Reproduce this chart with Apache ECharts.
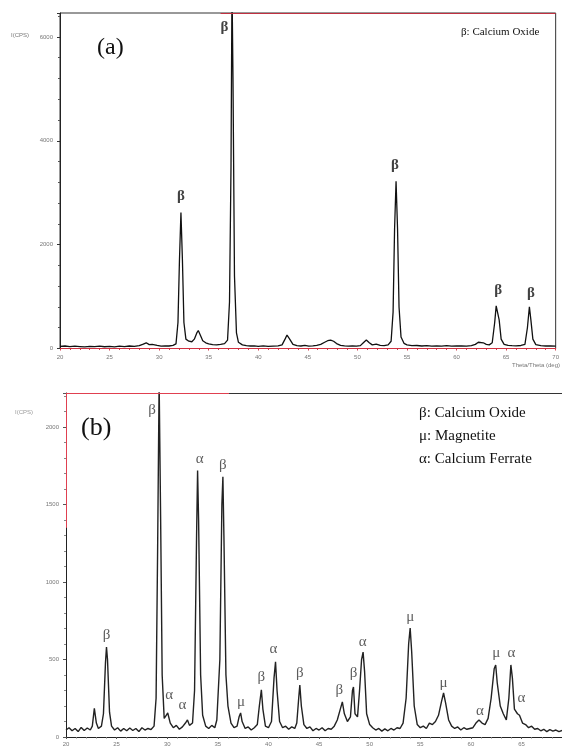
<!DOCTYPE html>
<html>
<head>
<meta charset="utf-8">
<script src="https://cdn.jsdelivr.net/npm/echarts@6/dist/echarts.min.js"></script>
<style>
  html, body { margin: 0; padding: 0; background: #fff; }
  #main { width: 562px; height: 748px; }
</style>
</head>
<body>
<div id="main"></div>
<script>
// (a) scan: [2theta, counts]
var scanA = [
  [20.0,40],[20.5,48],[21.0,35],[21.5,45],[22.0,38],[22.5,30],[23.0,42],[23.5,36],[24.0,46],[24.5,34],
  [25.0,40],[25.5,32],[26.0,44],[26.5,38],[27.0,48],[27.5,40],[28.0,55],[28.4,85],[28.7,110],[29.0,75],
  [29.3,80],[29.5,95],[29.8,60],[30.2,45],[30.6,52],[31.0,48],[31.4,60],[31.7,90],[31.9,500],[32.05,1700],
  [32.2,2620],[32.35,1700],[32.5,500],[32.7,180],[33.0,140],[33.3,130],[33.55,180],[33.8,300],[33.95,346],[34.15,260],
  [34.4,150],[34.7,110],[35.0,90],[35.4,75],[35.8,70],[36.2,80],[36.6,95],[36.9,160],[37.1,900],[37.25,3500],
  [37.35,7000],[37.45,5200],[37.6,1400],[37.8,300],[38.0,120],[38.4,70],[38.8,55],[39.2,48],[39.6,52],[40.0,42],
  [40.5,50],[41.0,40],[41.5,46],[42.0,50],[42.4,70],[42.7,180],[42.9,260],[43.2,170],[43.5,80],[43.9,55],
  [44.3,48],[44.7,60],[45.1,45],[45.5,52],[45.9,60],[46.3,80],[46.7,120],[47.0,150],[47.3,163],[47.6,140],
  [47.9,95],[48.3,60],[48.7,50],[49.1,44],[49.5,52],[49.9,46],[50.3,55],[50.6,110],[50.9,163],[51.2,110],
  [51.5,70],[51.9,85],[52.3,60],[52.7,55],[53.1,70],[53.4,140],[53.6,700],[53.75,2300],[53.9,3220],[54.05,2300],
  [54.2,800],[54.4,220],[54.7,100],[55.0,70],[55.5,55],[56.0,58],[56.5,48],[57.0,55],[57.5,45],[58.0,52],
  [58.5,46],[59.0,55],[59.5,44],[60.0,50],[60.5,48],[61.0,45],[61.5,55],[61.9,80],[62.2,120],[62.4,131],
  [62.7,110],[63.0,80],[63.3,70],[63.6,110],[63.85,500],[64.0,820],[64.15,856],[64.3,550],[64.5,180],[64.8,80],
  [65.2,60],[65.6,55],[66.0,52],[66.5,58],[66.9,80],[67.15,400],[67.35,804],[67.5,550],[67.7,180],[68.0,75],
  [68.5,55],[69.0,48],[69.5,52],[70.0,45]
];

// (b) scan
var scanB = [
  [20.0,45],[20.3,60],[20.6,40],[20.9,55],[21.2,35],[21.5,62],[21.8,42],[22.1,58],[22.4,45],[22.6,70],
  [22.8,185],[23.0,90],[23.2,55],[23.5,70],[23.7,150],[23.9,480],[24.0,580],[24.1,500],[24.3,160],[24.5,70],
  [24.8,45],[25.1,60],[25.4,38],[25.7,55],[26.0,40],[26.3,58],[26.6,42],[26.9,55],[27.2,35],[27.5,60],
  [27.8,45],[28.1,55],[28.4,48],[28.7,70],[28.9,250],[29.05,1200],[29.2,2300],[29.35,1400],[29.5,400],[29.7,120],
  [29.9,140],[30.05,155],[30.3,90],[30.6,60],[30.9,75],[31.2,50],[31.5,65],[31.8,90],[32.0,110],[32.2,75],
  [32.5,90],[32.7,300],[32.9,1300],[33.0,1720],[33.1,1400],[33.3,400],[33.5,140],[33.8,70],[34.1,55],[34.4,75],
  [34.7,60],[34.9,110],[35.2,500],[35.4,1500],[35.5,1680],[35.6,1300],[35.8,400],[36.0,200],[36.3,90],[36.6,60],
  [36.9,70],[37.1,130],[37.25,155],[37.4,100],[37.7,55],[38.0,65],[38.3,45],[38.6,60],[38.9,80],[39.1,200],
  [39.3,305],[39.45,180],[39.7,70],[40.0,60],[40.3,100],[40.55,380],[40.7,485],[40.85,300],[41.1,100],[41.4,60],
  [41.7,70],[42.0,50],[42.3,65],[42.6,55],[42.8,90],[43.0,260],[43.1,335],[43.25,200],[43.5,80],[43.8,55],
  [44.1,65],[44.4,40],[44.7,55],[45.0,45],[45.3,60],[45.6,40],[45.9,55],[46.2,50],[46.5,70],[46.8,110],
  [47.1,180],[47.3,226],[47.5,150],[47.8,100],[48.1,130],[48.3,300],[48.4,323],[48.55,150],[48.8,130],[49.0,300],
  [49.2,500],[49.35,548],[49.5,420],[49.7,150],[50.0,80],[50.3,60],[50.6,45],[50.9,55],[51.2,38],[51.5,52],
  [51.8,40],[52.1,55],[52.4,45],[52.7,60],[53.0,55],[53.3,90],[53.6,250],[53.85,600],[54.0,703],[54.15,550],
  [54.4,200],[54.7,80],[55.0,60],[55.3,70],[55.6,55],[55.9,90],[56.2,80],[56.5,100],[56.8,140],[57.1,230],
  [57.3,284],[57.5,220],[57.8,110],[58.1,70],[58.4,55],[58.7,65],[59.0,45],[59.3,60],[59.6,50],[59.9,55],
  [60.2,60],[60.5,90],[60.8,110],[61.1,90],[61.4,80],[61.7,120],[62.0,250],[62.3,440],[62.45,465],[62.6,350],
  [62.9,200],[63.2,150],[63.5,110],[63.75,250],[63.95,465],[64.1,380],[64.3,180],[64.6,150],[64.8,140],[65.1,90],
  [65.4,80],[65.7,60],[66.0,70],[66.3,50],[66.6,55],[66.9,40],[67.2,50],[67.5,35],[67.8,48],[68.1,38],
  [68.4,45],[68.7,35],[69.0,42]
];

// phase marks: [2theta, height of the letter, letter]
var peaksA = [
  [32.2, 2940, 'β'], [36.6, 6180, 'β'], [53.8, 3540, 'β'], [64.2, 1115, 'β'], [67.5, 1058, 'β']
];
var peaksB = [
  [24.0, 658, 'β'], [28.5, 2110, 'β'], [30.2, 271, 'α'], [31.5, 206, 'α'], [33.2, 1794, 'α'],
  [35.5, 1755, 'β'], [37.3, 226, 'μ'], [39.3, 387, 'β'], [40.5, 568, 'α'], [43.1, 413, 'β'],
  [47.0, 303, 'β'], [48.4, 413, 'β'], [49.3, 613, 'α'], [54.0, 774, 'μ'], [57.3, 348, 'μ'],
  [60.9, 168, 'α'], [62.5, 542, 'μ'], [64.0, 542, 'α'], [65.0, 252, 'α']
];

var legendA = ['β: Calcium Oxide'];
var legendB = ['β: Calcium Oxide', 'μ: Magnetite', 'α: Calcium Ferrate'];

var xMinA = 20, xMaxA = 70, yMaxA = 6460;
var xMinB = 20, xMaxB = 69, yMaxB = 2220;

var chart = echarts.init(document.getElementById('main'));

var serif = '"Liberation Serif", "DejaVu Serif", serif';
var small = { fontSize: 6, color: '#777', fontFamily: 'Arial', formatter: function (v) { return String(v); } };

function txt(s, x, y, size, bold) {
  return {
    type: 'text', x: x, y: y, silent: true,
    style: {
      text: s, fill: '#111', verticalAlign: 'middle',
      font: (bold ? 'bold ' : '') + size + 'px ' + serif
    }
  };
}

function peakLabels(data, xi, size, weight, color) {
  return {
    type: 'scatter', xAxisIndex: xi, yAxisIndex: xi,
    data: data, symbolSize: 1, itemStyle: { color: 'rgba(0,0,0,0)' },
    silent: true, z: 5,
    label: {
      show: true, position: 'inside', color: color,
      fontFamily: serif, fontSize: size, fontWeight: weight,
      formatter: function (p) { return p.data[2]; }
    }
  };
}

var solid = function (c) { return { type: 'solid', color: c, width: 1 }; };

var graphics = [
  txt('(a)', 97, 48, 24),
  txt('(b)', 81, 428, 26),
  { type: 'text', x: 11, y: 35, silent: true, style: { text: 'I(CPS)', fill: '#777', font: '6px Arial', verticalAlign: 'middle' } },
  { type: 'text', x: 15, y: 412, silent: true, style: { text: 'I(CPS)', fill: '#999', font: '6px Arial', verticalAlign: 'middle' } },
  { type: 'text', x: 512, y: 365, silent: true, style: { text: 'Theta/Theta (deg)', fill: '#777', font: '6px Arial', verticalAlign: 'middle' } }
];
legendA.forEach(function (s, i) { graphics.push(txt(s, 461, 32 + i * 22, 11)); });
legendB.forEach(function (s, i) { graphics.push(txt(s, 419, 413 + i * 23, 15)); });

var option = {
  animation: false,
  backgroundColor: '#fff',
  grid: [
    { left: 60, top: 13, right: 2, height: 335.5, show: true, borderColor: '#333', borderWidth: 1 },
    { left: 66, top: 393, right: 0, height: 344 }
  ],
  xAxis: [
    {
      type: 'value', gridIndex: 0, min: xMinA, max: xMaxA, interval: 5,
      axisLine: { lineStyle: { color: '#d04050', width: 1 } },
      axisTick: { show: true, length: 2, lineStyle: { color: '#d04050' } },
      minorTick: { show: true, splitNumber: 5, length: 1.5, lineStyle: { color: '#d04050' } },
      axisLabel: Object.assign({ margin: 6, showMaxLabel: true }, small),
      splitLine: { show: false }
    },
    {
      type: 'value', gridIndex: 1, min: xMinB, max: xMaxB, interval: 5,
      axisLine: { lineStyle: { color: '#222', width: 1 } },
      axisTick: { show: true, length: 2, lineStyle: { color: '#555' } },
      minorTick: { show: true, splitNumber: 5, length: 1.5, lineStyle: { color: '#777' } },
      axisLabel: Object.assign({ margin: 4, showMaxLabel: false }, small),
      splitLine: { show: false }
    }
  ],
  yAxis: [
    {
      type: 'value', gridIndex: 0, min: 0, max: yMaxA, interval: 2000,
      axisLine: { show: true, lineStyle: { color: '#222', width: 1 } },
      axisTick: { show: true, length: 3, lineStyle: { color: '#333' } },
      minorTick: { show: true, splitNumber: 5, length: 2, lineStyle: { color: '#555' } },
      axisLabel: Object.assign({ margin: 7, showMaxLabel: false }, small),
      splitLine: { show: false }
    },
    {
      type: 'value', gridIndex: 1, min: 0, max: yMaxB, interval: 500,
      axisLine: { show: true, lineStyle: { color: '#222', width: 1 } },
      axisTick: { show: true, length: 3, lineStyle: { color: '#555' } },
      minorTick: { show: true, splitNumber: 5, length: 2, lineStyle: { color: '#888' } },
      axisLabel: Object.assign({ margin: 7, showMaxLabel: false }, small),
      splitLine: { show: false }
    }
  ],
  series: [
    {
      type: 'line', xAxisIndex: 0, yAxisIndex: 0, data: scanA,
      showSymbol: false, clip: true, z: 3,
      lineStyle: { color: '#111', width: 1.3 },
      markLine: {
        silent: true, symbol: ['none', 'none'], label: { show: false },
        data: [
          { yAxis: 0, lineStyle: solid('#d03040') },
          [{ coord: [36.2, yMaxA], lineStyle: solid('#c03040') }, { coord: [xMaxA, yMaxA] }]
        ]
      }
    },
    peakLabels(peaksA, 0, 15, 'bold', '#111'),
    {
      type: 'line', xAxisIndex: 1, yAxisIndex: 1, data: scanB,
      showSymbol: false, clip: true, z: 3,
      lineStyle: { color: '#222', width: 1.4 },
      markLine: {
        silent: true, symbol: ['none', 'none'], label: { show: false },
        data: [
          [{ coord: [xMinB, yMaxB], lineStyle: solid('#e04050') }, { coord: [36.1, yMaxB] }],
          [{ coord: [36.1, yMaxB], lineStyle: solid('#333') }, { coord: [xMaxB, yMaxB] }],
          [{ coord: [xMinB, yMaxB], lineStyle: solid('#e04050') }, { coord: [xMinB, 1350] }]
        ]
      }
    },
    peakLabels(peaksB, 1, 15, 'normal', '#333')
  ],
  graphic: graphics
};

chart.setOption(option);
</script>
</body>
</html>
